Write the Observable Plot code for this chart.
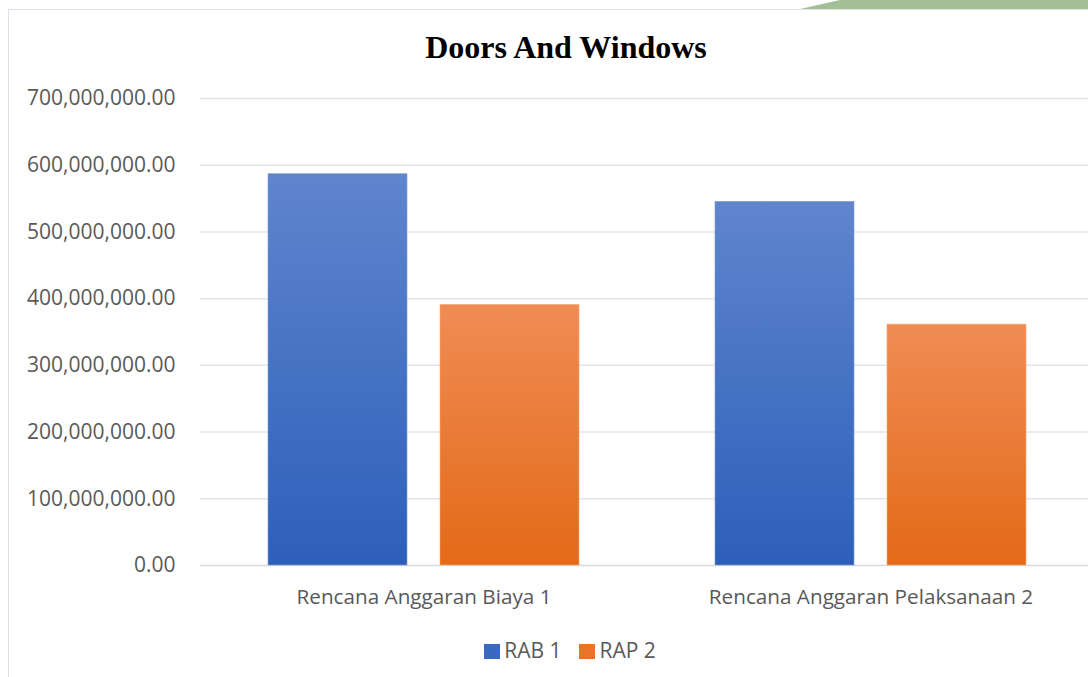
<!DOCTYPE html>
<html>
<head>
<meta charset="utf-8">
<script src="https://cdn.jsdelivr.net/npm/d3@7"></script>
<script src="https://cdn.jsdelivr.net/npm/@observablehq/plot@0.6"></script>
<style>
  html, body { margin: 0; padding: 0; width: 1088px; height: 677px; overflow: hidden; background: #fff; }
  #deco { position: absolute; left: 800px; top: 0; width: 288px; height: 9px; background: #a3bf96;
          clip-path: polygon(40px 0, 100% 0, 100% 100%, 0 100%); }
  #box { position: absolute; left: 8px; top: 9px; width: 1100px; height: 700px;
         border-left: 1.5px solid #dde1ea; border-top: 1.5px solid #dde1ea; background: #fff; }
  #title { position: absolute; left: 0; top: 29px; width: 1132px; text-align: center;
           font-family: "Liberation Serif", "Times New Roman", serif; font-weight: bold; font-size: 32px;
           color: #000; line-height: 36px; }
  #chart { position: absolute; left: 0; top: 80px; }
  #legend { position: absolute; left: 0; top: 636px; width: 1140px; text-align: center;
            font-family: "Open Sans", sans-serif; font-size: 21px; color: #595959; line-height: 28px; }
  #legend span.sw { display: inline-block; width: 16px; height: 15px; margin-right: 4px; vertical-align: -1px; }
  #legend span.item { margin: 0 9px; }
</style>
</head>
<body>
<div id="deco"></div>
<div id="box"></div>
<div id="title">Doors And Windows</div>
<div id="chart"></div>
<div id="legend"></div>
<script>
// ---- data ----
const categories = ["Rencana Anggaran Biaya 1", "Rencana Anggaran Pelaksanaan 2"];
const seriesNames = ["RAB 1", "RAP 2"];
const rab1Values = [586500000, 545000000];
const rap2Values = [390500000, 361000000];
const yTicks = [0, 100000000, 200000000, 300000000, 400000000, 500000000, 600000000, 700000000];

const rows = [];
categories.forEach((c, i) => {
  rows.push({category: c, series: seriesNames[0], value: rab1Values[i]});
  rows.push({category: c, series: seriesNames[1], value: rap2Values[i]});
});

const fmt = d3.format(",.2f");

const defs = () => {
  const ns = "http://www.w3.org/2000/svg";
  const d = document.createElementNS(ns, "defs");
  const mk = (id, top, bottom) => {
    const g = document.createElementNS(ns, "linearGradient");
    g.setAttribute("id", id);
    g.setAttribute("x1", "0"); g.setAttribute("y1", "0");
    g.setAttribute("x2", "0"); g.setAttribute("y2", "1");
    [[0, top], [1, bottom]].forEach(([o, c]) => {
      const s = document.createElementNS(ns, "stop");
      s.setAttribute("offset", o);
      s.setAttribute("stop-color", c);
      g.appendChild(s);
    });
    d.appendChild(g);
  };
  mk("gradBlue", "#5f85cd", "#2d5fba");
  mk("gradOrange", "#f08c54", "#e36a18");
  return d;
};

const chart = Plot.plot({
  width: 1094,
  height: 540,
  marginLeft: 200,
  marginRight: 0,
  marginTop: 18,
  marginBottom: 55,
  style: {background: "transparent", overflow: "visible", maxWidth: "none"},
  fx: {domain: categories, padding: 0, label: null},
  x: {domain: seriesNames, paddingInner: 0.192, paddingOuter: 0.395, axis: null},
  y: {domain: [0, 700000000], axis: null},
  marks: [
    defs,
    Plot.ruleY(yTicks.slice(1), {stroke: "#e1e4ea", strokeWidth: 1.5}),
    Plot.ruleY([0], {stroke: "#d6d9e0", strokeWidth: 1.5}),
    Plot.barY(rows.filter(d => d.series === seriesNames[0]),
      {fx: "category", x: "series", y: "value", fill: "url(#gradBlue)", stroke: "#7c9ad6", strokeWidth: 0.6}),
    Plot.barY(rows.filter(d => d.series === seriesNames[1]),
      {fx: "category", x: "series", y: "value", fill: "url(#gradOrange)", stroke: "#f3a577", strokeWidth: 0.6}),
    Plot.axisY(yTicks, {tickFormat: fmt, tickSize: 0, tickPadding: 25, label: null,
      fontFamily: "Open Sans", fontSize: 21, fill: "#595959"}),
    Plot.axisFx({anchor: "bottom", tickSize: 0, tickPadding: 24, label: null,
      fontFamily: "Open Sans", fontSize: 20.7, fill: "#595959"})
  ]
});
document.getElementById("chart").appendChild(chart);

const legend = document.getElementById("legend");
const swatchColors = ["#3b68c2", "#ea7424"];
seriesNames.forEach((s, i) => {
  const item = document.createElement("span");
  item.className = "item";
  const sw = document.createElement("span");
  sw.className = "sw";
  sw.style.background = swatchColors[i];
  item.appendChild(sw);
  item.appendChild(document.createTextNode(s));
  legend.appendChild(item);
});
</script>
</body>
</html>
